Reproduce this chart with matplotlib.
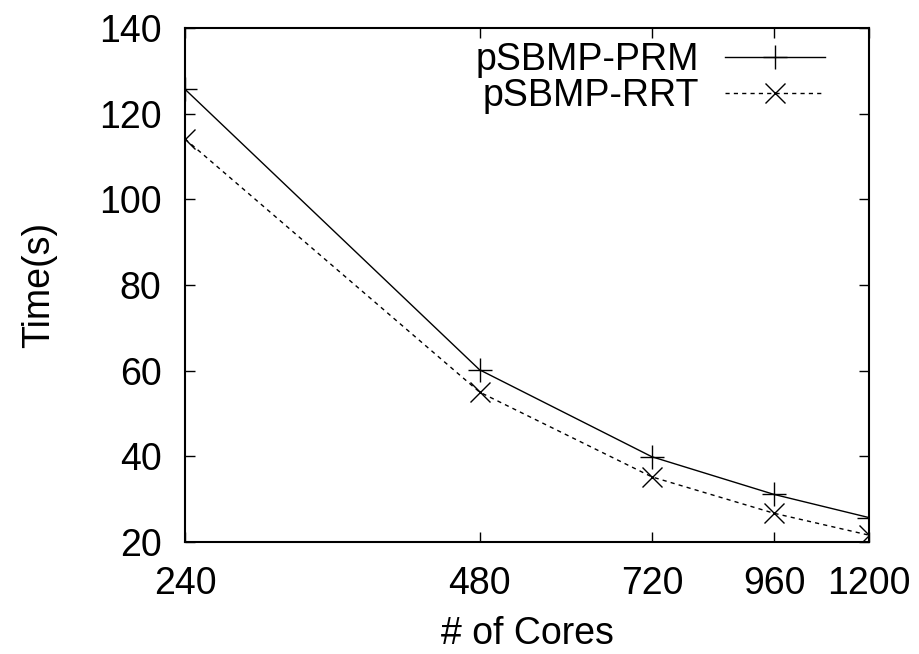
import matplotlib
matplotlib.use("Agg")
import matplotlib.pyplot as plt
from matplotlib.ticker import FixedLocator, NullLocator, FixedFormatter

plt.rcParams['font.family'] = ['Liberation Sans', 'DejaVu Sans']

cores = [240, 480, 720, 960, 1200]
prm = [125.7, 60.2, 39.9, 31.1, 25.7]
rrt = [114.1, 55.0, 35.2, 26.7, 21.6]
xtick_labels = ['240', '480', '720', '960', '1200']
yticks = [20, 40, 60, 80, 100, 120, 140]

FS = 27

fig = plt.figure(figsize=(9.19, 6.54), dpi=100)
ax = fig.add_axes([185/919, 1 - 542/654, (869-185)/919, (542-28)/654])

ax.plot(cores, prm, color='black', lw=1.0, marker='+', markersize=17,
        markeredgewidth=1.0, label='pSBMP-PRM')
ax.plot(cores, rrt, color='black', lw=1.0, marker='x', markersize=15,
        markeredgewidth=1.0, dashes=(3, 3), label='pSBMP-RRT')

ax.set_xscale('log')
ax.set_xlim(240, 1200)
ax.set_ylim(20, 140)
ax.xaxis.set_major_locator(FixedLocator(cores))
ax.xaxis.set_major_formatter(FixedFormatter(xtick_labels))
ax.xaxis.set_minor_locator(NullLocator())
ax.set_yticks(yticks)

ax.tick_params(direction='in', length=7, width=1.0, labelsize=FS,
               top=True, right=True)
ax.tick_params(axis='y', pad=17)
ax.tick_params(axis='x', pad=17)
for s in ax.spines.values():
    s.set_linewidth(1.5)

ax.set_xlabel('# of Cores', fontsize=FS, labelpad=10)
ax.set_ylabel('Time(s)', fontsize=FS, labelpad=30)

leg = ax.legend(loc='upper right', bbox_to_anchor=(0.935, 0.972), frameon=False,
                markerfirst=False, fontsize=FS, handlelength=2.65,
                handletextpad=0.7, labelspacing=0.0, borderaxespad=0.0,
                borderpad=0.0)

fig.savefig('out.png', dpi=100)
